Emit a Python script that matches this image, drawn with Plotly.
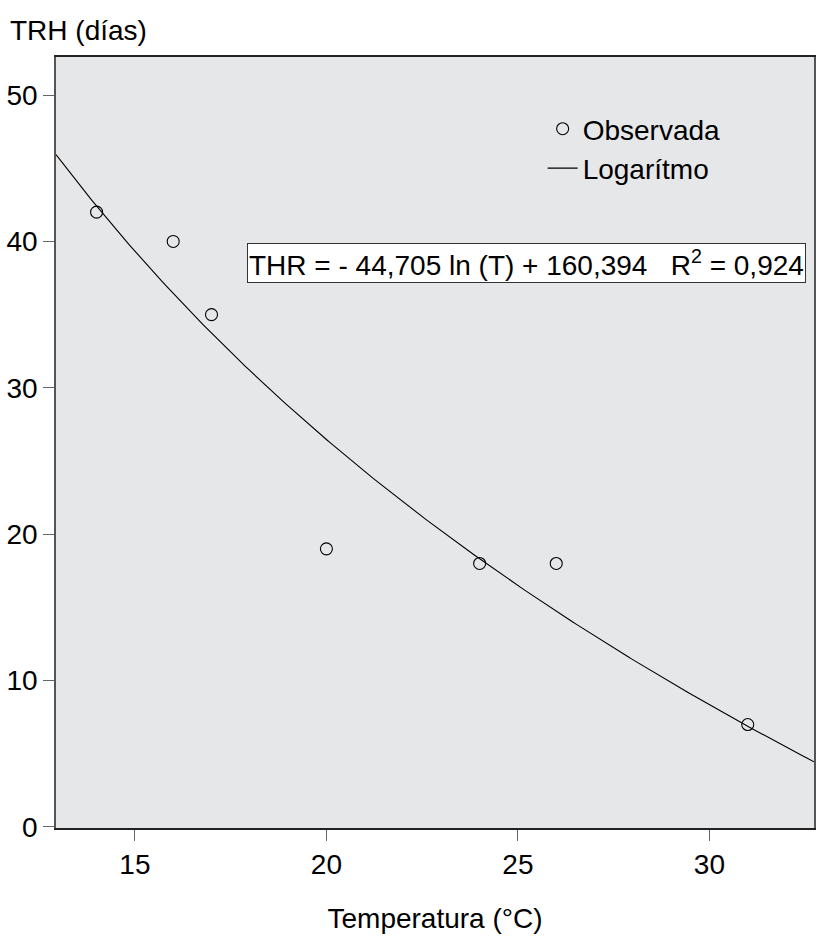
import numpy as np
import plotly.graph_objects as go

temperature = [14, 16, 17, 20, 24, 26, 31]
trh_observed = [42, 40, 35, 19, 18, 18, 7]
coef_a = -44.705
coef_b = 160.394
r2 = 0.924
x_ticks = [15, 20, 25, 30]
y_ticks = [0, 10, 20, 30, 40, 50]
x_range = [12.94, 32.73]
y_range = [-0.07, 52.6]

xs = np.linspace(x_range[0], x_range[1], 300)
ys = coef_a * np.log(xs) + coef_b

FONT = "Liberation Sans, Arial, sans-serif"
FS = 28

fig = go.Figure()
fig.add_trace(go.Scatter(
    x=temperature, y=trh_observed, mode="markers", name="Observada",
    marker=dict(symbol="circle-open", size=12, color="black", line=dict(width=1.1, color="black")),
))
fig.add_trace(go.Scatter(
    x=xs, y=ys, mode="lines", name="Logarítmo",
    line=dict(color="black", width=1.1),
))

fig.add_annotation(
    x=25.22, y=38.5, xref="x", yref="y",
    text="THR = - 44,705 ln (T) + 160,394   R<sup>2</sup> = 0,924",
    showarrow=False, font=dict(family=FONT, size=FS, color="black"),
    bgcolor="white", bordercolor="#333", borderwidth=1, borderpad=1,
)
fig.add_annotation(
    x=-0.063, y=1.035, xref="paper", yref="paper", text="TRH (días)",
    showarrow=False, font=dict(family=FONT, size=FS, color="black"),
    xanchor="left", yanchor="middle",
)

fig.update_layout(
    width=816, height=936,
    margin=dict(l=56, r=0, t=57, b=108),
    paper_bgcolor="white", plot_bgcolor="#e6e7e9",
    font=dict(family=FONT, size=FS, color="black"),
    showlegend=True,
    legend=dict(
        x=0.642, y=0.939, xanchor="left", yanchor="top",
        bgcolor="rgba(0,0,0,0)", font=dict(family=FONT, size=FS, color="black"),
    ),
)
fig.update_xaxes(
    range=x_range, tickvals=x_ticks, showgrid=False, zeroline=False,
    showline=True, linecolor="#222", linewidth=1.5, mirror=True,
    ticks="outside", ticklen=11, tickcolor="#666", tickwidth=1,
    tickfont=dict(size=FS),
    title=dict(text="Temperatura (°C)", font=dict(size=FS), standoff=29),
)
fig.update_yaxes(
    range=y_range, tickvals=y_ticks, showgrid=False, zeroline=False,
    showline=True, linecolor="#555", linewidth=1.5, mirror=True,
    ticks="outside", ticklen=11, tickcolor="#666", tickwidth=1,
    tickfont=dict(size=FS),
)
fig.write_html(
    "out.html",
    config={"displayModeBar": False},
    post_script="document.body.style.margin='0';document.body.style.overflow='hidden';",
)
